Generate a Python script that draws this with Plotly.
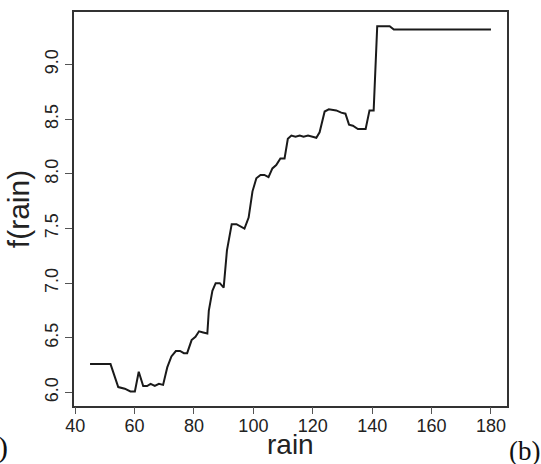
import plotly.graph_objects as go

rain = [45, 51.9, 54.5, 56.7, 58.6, 60.1, 61.4, 62.9, 64.2, 65.4, 66.8, 68.2, 69.6,
        71.0, 72.4, 73.9, 75.3, 76.6, 77.7, 79.2, 80.5, 81.7, 83.1, 84.5, 85.0, 86.2,
        87.3, 88.7, 90.0, 91.1, 92.7, 94.3, 97.0, 98.4, 99.7, 101.0, 102.4, 103.7,
        105.1, 106.4, 107.7, 109.1, 110.5, 111.6, 112.8, 114.2, 115.6, 116.9, 118.4,
        119.7, 121.2, 122.3, 124.0, 125.4, 127.9, 129.6, 131.0, 132.2, 133.5, 135.2,
        137.8, 139.1, 140.5, 141.7, 145.9, 147.3, 180]
f_rain = [6.26, 6.26, 6.05, 6.035, 6.01, 6.01, 6.19, 6.06, 6.06, 6.08, 6.06, 6.08, 6.07,
          6.23, 6.33, 6.38, 6.38, 6.36, 6.36, 6.48, 6.51, 6.56, 6.55, 6.54, 6.75, 6.93,
          7.0, 7.0, 6.96, 7.30, 7.54, 7.54, 7.50, 7.60, 7.84, 7.96, 7.99, 7.99,
          7.97, 8.05, 8.08, 8.14, 8.14, 8.32, 8.35, 8.34, 8.35, 8.34, 8.35,
          8.34, 8.33, 8.38, 8.57, 8.59, 8.58, 8.56, 8.55, 8.45, 8.44, 8.41,
          8.41, 8.58, 8.58, 9.35, 9.35, 9.32, 9.32]

x_ticks = [40, 60, 80, 100, 120, 140, 160, 180]
y_ticks = [6.0, 6.5, 7.0, 7.5, 8.0, 8.5, 9.0]
y_tick_labels = ["6.0", "6.5", "7.0", "7.5", "8.0", "8.5", "9.0"]

sans = "Liberation Sans, Arial"
serif = "Liberation Serif, Times New Roman"
x_range = [39.6, 185.4]

fig = go.Figure()
fig.add_trace(go.Scatter(x=rain, y=f_rain, mode="lines",
                         line=dict(color="#1a1a1a", width=2), showlegend=False))
# invisible companion trace so the tick-only overlay axis is drawn
fig.add_trace(go.Scatter(x=rain, y=f_rain, mode="lines", xaxis="x2",
                         line=dict(color="rgba(0,0,0,0)", width=0), showlegend=False,
                         hoverinfo="skip"))

axis_common = dict(showline=True, linecolor="#333333", linewidth=1.5, mirror=True,
                   tickcolor="#555555", tickwidth=1,
                   showgrid=False, zeroline=False,
                   tickfont=dict(family=sans, size=18, color="#222"))

fig.update_layout(
    width=541, height=464,
    margin=dict(l=74, r=34, t=10, b=58),
    paper_bgcolor="white", plot_bgcolor="white",
    xaxis=dict(range=x_range, tickvals=x_ticks, ticks="outside", ticklen=3, **axis_common),
    xaxis2=dict(range=x_range, tickvals=x_ticks, overlaying="x", side="bottom", anchor="y",
                ticks="outside", ticklen=7, tickcolor="#555555", tickwidth=1,
                showticklabels=False, showgrid=False, zeroline=False, showline=False),
    yaxis=dict(range=[5.877, 9.48], tickvals=y_ticks, ticktext=y_tick_labels, tickangle=-90,
               ticks="outside", ticklen=7,
               title=dict(text="f(rain)", font=dict(family=sans, size=30, color="#222"),
                          standoff=4),
               **axis_common),
    annotations=[
        dict(text="rain", x=0.5, y=(406 - 445) / 396, xref="paper", yref="paper",
             xanchor="center", yanchor="middle", showarrow=False,
             font=dict(family=sans, size=28, color="#222")),
        dict(text="(b)", x=(507 - 74) / 433, y=(406 - 451) / 396, xref="paper", yref="paper",
             xanchor="left", yanchor="middle", showarrow=False,
             font=dict(family=serif, size=27, color="#111")),
        dict(text=")", x=(10 - 74) / 433, y=(406 - 447) / 396, xref="paper", yref="paper",
             xanchor="right", yanchor="middle", showarrow=False,
             font=dict(family=serif, size=30, color="#111")),
    ],
)

fig.write_html("out.html", config={"displayModeBar": False},
               post_script="document.body.style.margin='0';document.body.style.overflow='hidden';")
